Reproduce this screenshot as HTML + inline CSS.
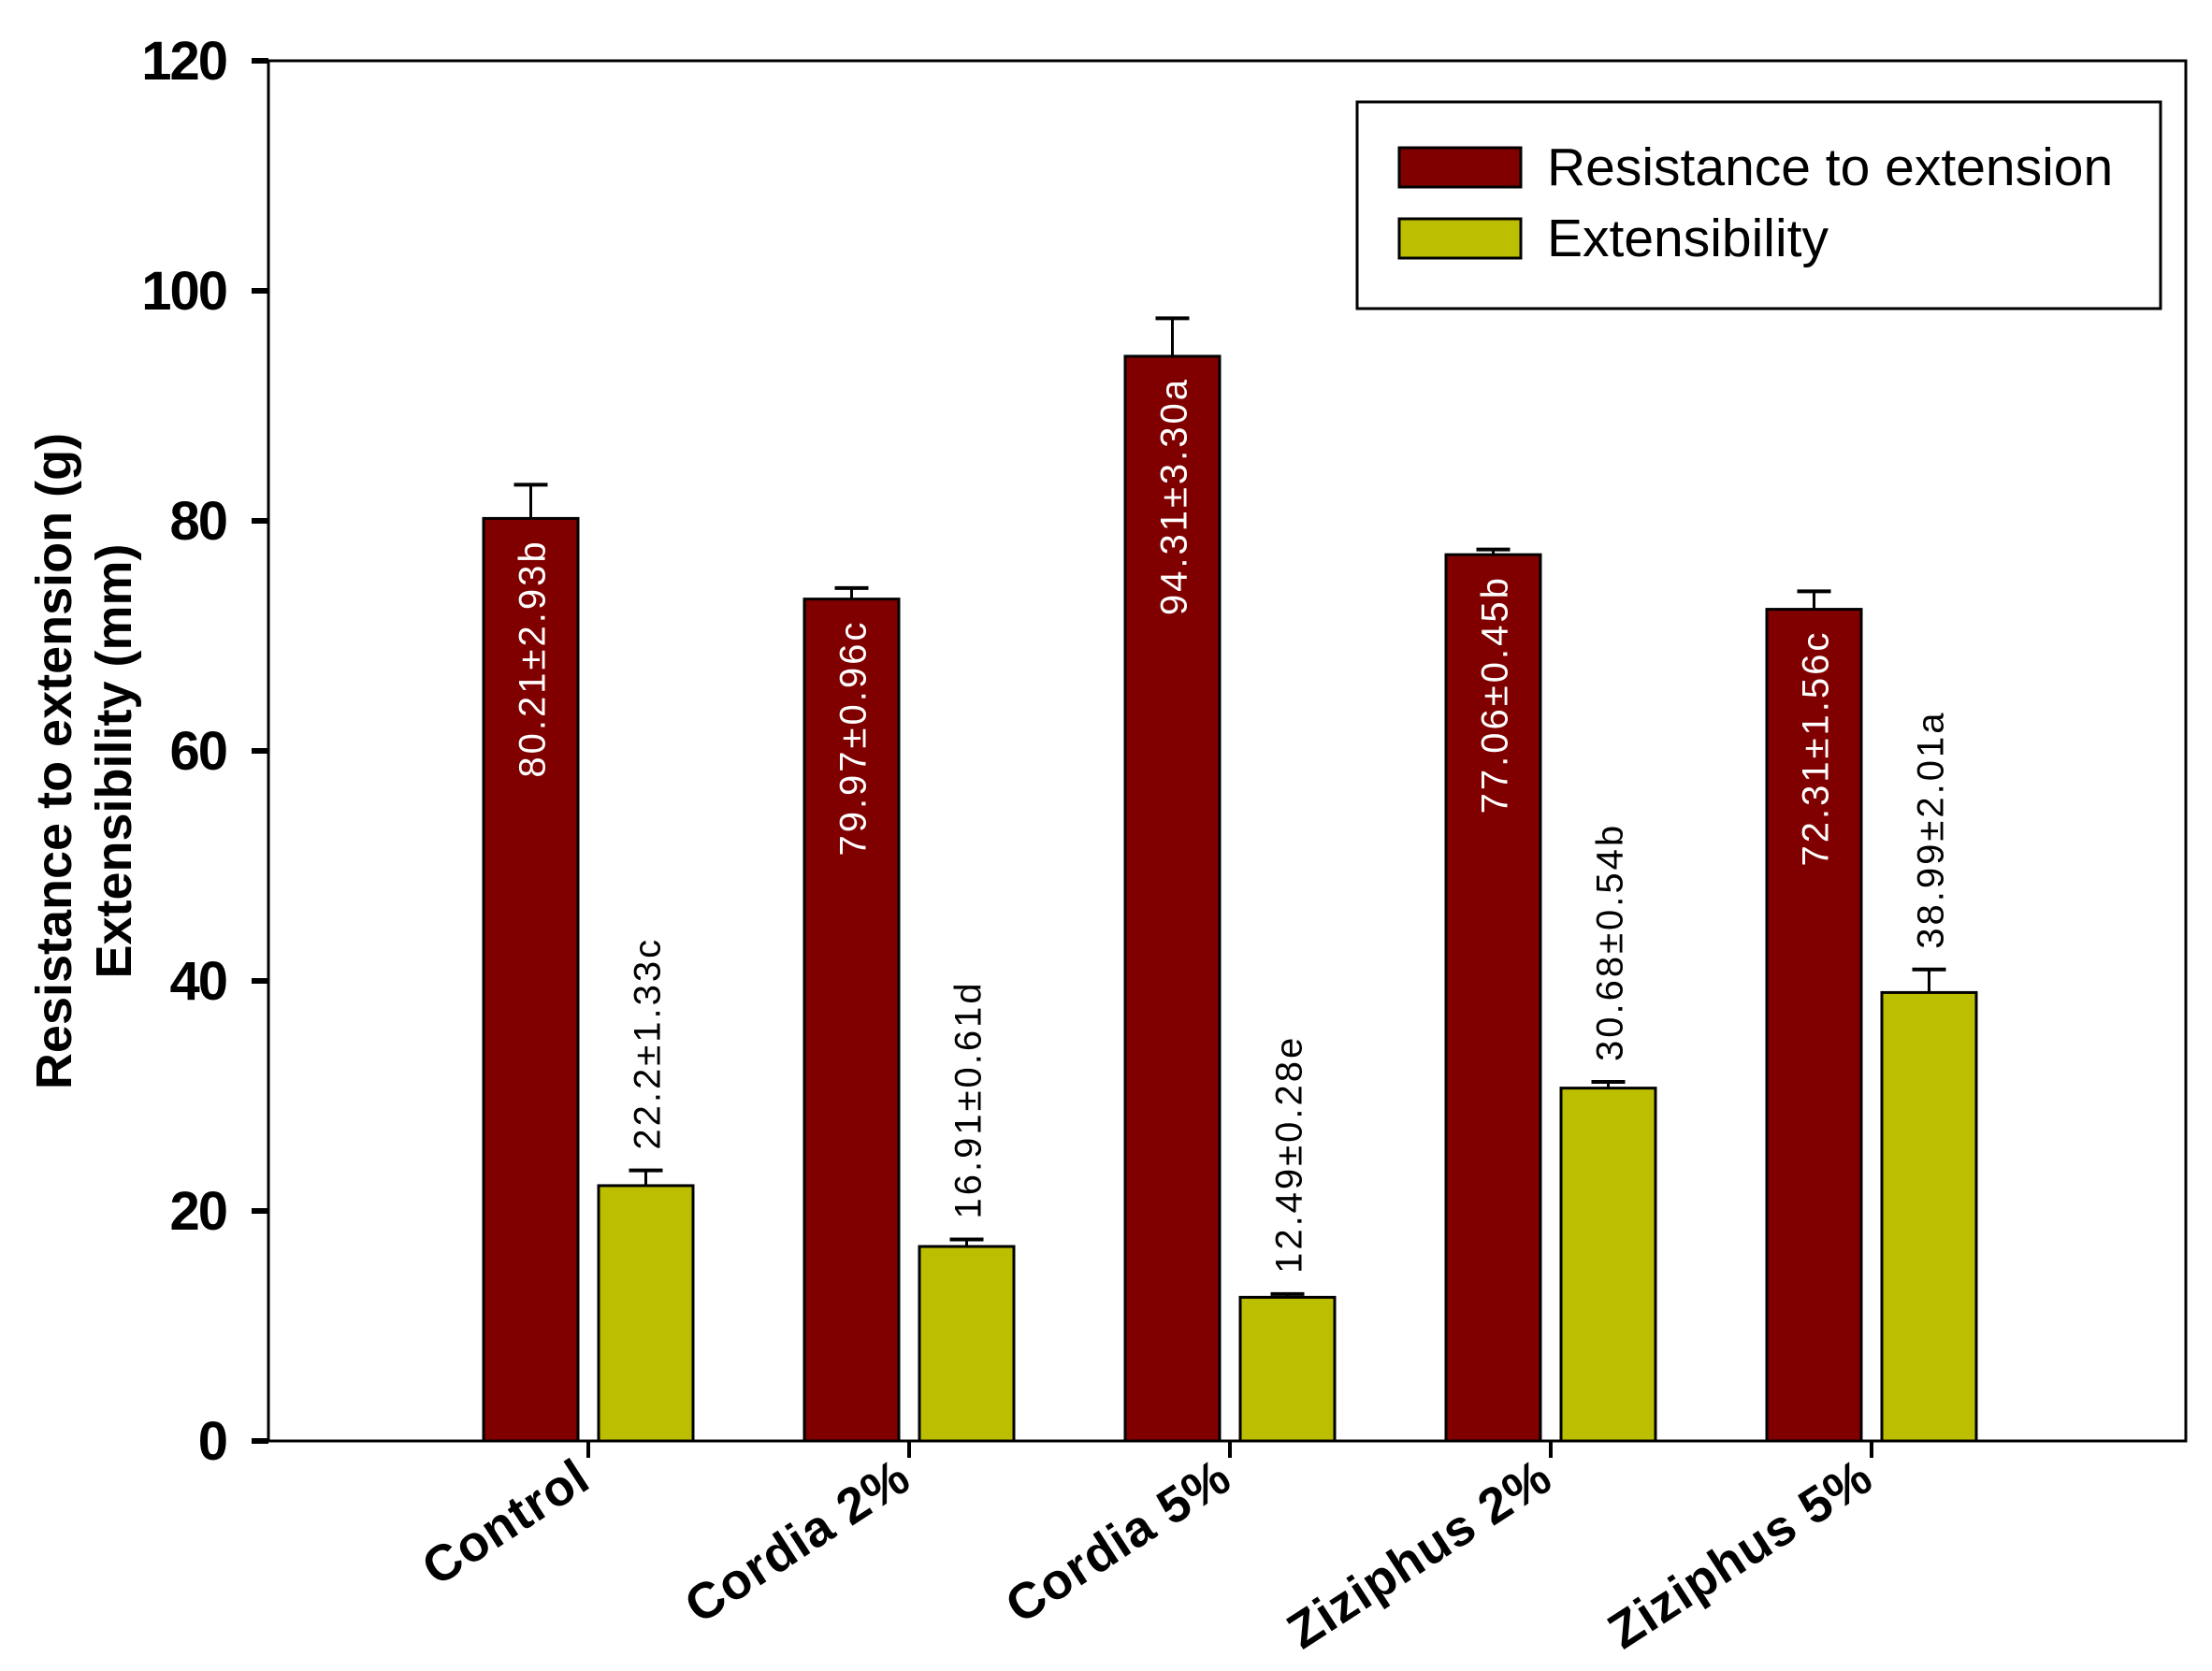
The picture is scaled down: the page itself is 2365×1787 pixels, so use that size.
<!DOCTYPE html>
<html><head><meta charset="utf-8"><style>
html,body{margin:0;padding:0;background:#fff;}
svg{display:block;font-family:"Liberation Sans",Arial,sans-serif;}
</style></head><body>
<svg id="chart" width="2365" height="1787" viewBox="0 0 2365 1787" xmlns="http://www.w3.org/2000/svg">
<rect x="0" y="0" width="2365" height="1787" fill="#fff"/>
<g id="plot"></g>
<g>
<rect x="1451" y="109" width="859" height="221" fill="#fff" stroke="#000" stroke-width="3"/>
<rect x="1496" y="158" width="130" height="42" fill="#800000" stroke="#000" stroke-width="3"/>
<text x="1654" y="198" font-size="57">Resistance to extension</text>
<rect x="1496" y="234" width="130" height="42" fill="#bbbf00" stroke="#000" stroke-width="3"/>
<text x="1654" y="274" font-size="57">Extensibility</text>
</g>
<g font-size="54" font-weight="bold" text-anchor="middle">
<text transform="translate(76,814) rotate(-90)">Resistance to extension (g)</text>
<text transform="translate(140,814) rotate(-90)">Extensibility (mm)</text>
</g>
</svg>
<script>
const categories = ["Control", "Cordia 2%", "Cordia 5%", "Ziziphus 2%", "Ziziphus 5%"];
const resistance = [80.21, 73.2, 94.31, 77.06, 72.31];
const resistanceErr = [2.93, 0.96, 3.30, 0.45, 1.56];
const resistanceLabels = ["80.21±2.93b", "79.97±0.96c", "94.31±3.30a", "77.06±0.45b", "72.31±1.56c"];
const extensibility = [22.2, 16.91, 12.49, 30.68, 38.99];
const extensibilityErr = [1.33, 0.61, 0.28, 0.54, 2.01];
const extensibilityLabels = ["22.2±1.33c", "16.91±0.61d", "12.49±0.28e", "30.68±0.54b", "38.99±2.01a"];
const yTicks = [0, 20, 40, 60, 80, 100, 120];

const NS = "http://www.w3.org/2000/svg";
const L = 287, R = 2337, T = 65, B = 1541;
const yMin = 0, yMax = 120;
function yScale(v){ return B - (v - yMin) / (yMax - yMin) * (B - T); }
const groupStart = 629, groupStep = 343;
function xCenter(i){ return groupStart + i * groupStep; }
const barW = 101, gap = 11;
const plot = document.getElementById("plot");
function mk(tag, attrs, parent){
  const e = document.createElementNS(NS, tag);
  for (const k in attrs) e.setAttribute(k, attrs[k]);
  (parent || plot).appendChild(e);
  return e;
}

let fr = mk("rect", {x:L, y:T, width:R-L, height:B-T, fill:"none", stroke:"#000", "stroke-width":3});



yTicks.forEach(v => {
  const y = yScale(v);
  const t = mk("line", {x1:L-18, x2:L, y1:y, y2:y, stroke:"#000", "stroke-width":6});
  
  
  const tx = mk("text", {x:L-45, y:y+20, "font-size":58, "font-weight":"bold", "text-anchor":"end", "letter-spacing":"-2"});
  tx.textContent = v;
  
  
});

function bar(x, v, err, color, label, inside, name){
  const y0 = yScale(0), y1 = yScale(v), ye = yScale(v + err);
  const eline = mk("line", {x1:x+barW/2, x2:x+barW/2, y1:y1, y2:ye, stroke:"#000", "stroke-width":3});
  
  
  const cap = mk("line", {x1:x+barW/2-18, x2:x+barW/2+18, y1:ye, y2:ye, stroke:"#000", "stroke-width":4});
  
  
  const r = mk("rect", {x:x, y:y1, width:barW, height:y0-y1, fill:color, stroke:"#000", "stroke-width":3});
  
  
  let tx;
  if (inside) {
    tx = mk("text", {transform:"translate(" + (x+barW/2+15) + "," + (y1+22) + ") rotate(-90)", "font-size":40, fill:"#fff", "text-anchor":"end", "letter-spacing":"3"});
  } else {
    tx = mk("text", {transform:"translate(" + (x+barW/2+15) + "," + (ye-22) + ") rotate(-90)", "font-size":40, fill:"#000", "text-anchor":"start", "letter-spacing":"3"});
  }
  tx.textContent = label;
  
  
}

categories.forEach((c, i) => {
  const xc = xCenter(i);
  bar(xc - gap - barW, resistance[i], resistanceErr[i], "#800000", resistanceLabels[i], true, "bar-resistance-" + i);
  bar(xc + gap, extensibility[i], extensibilityErr[i], "#bbbf00", extensibilityLabels[i], false, "bar-extensibility-" + i);
  const tk = mk("line", {x1:xc, x2:xc, y1:B, y2:B+18, stroke:"#000", "stroke-width":4});
  
  
  const tx = mk("text", {transform:"translate(" + (xc+5) + "," + (B+48) + ") rotate(-33)", "font-size":54, "font-weight":"bold", "text-anchor":"end", "letter-spacing":"1"});
  tx.textContent = c;
  
  
});
</script>
</body></html>
